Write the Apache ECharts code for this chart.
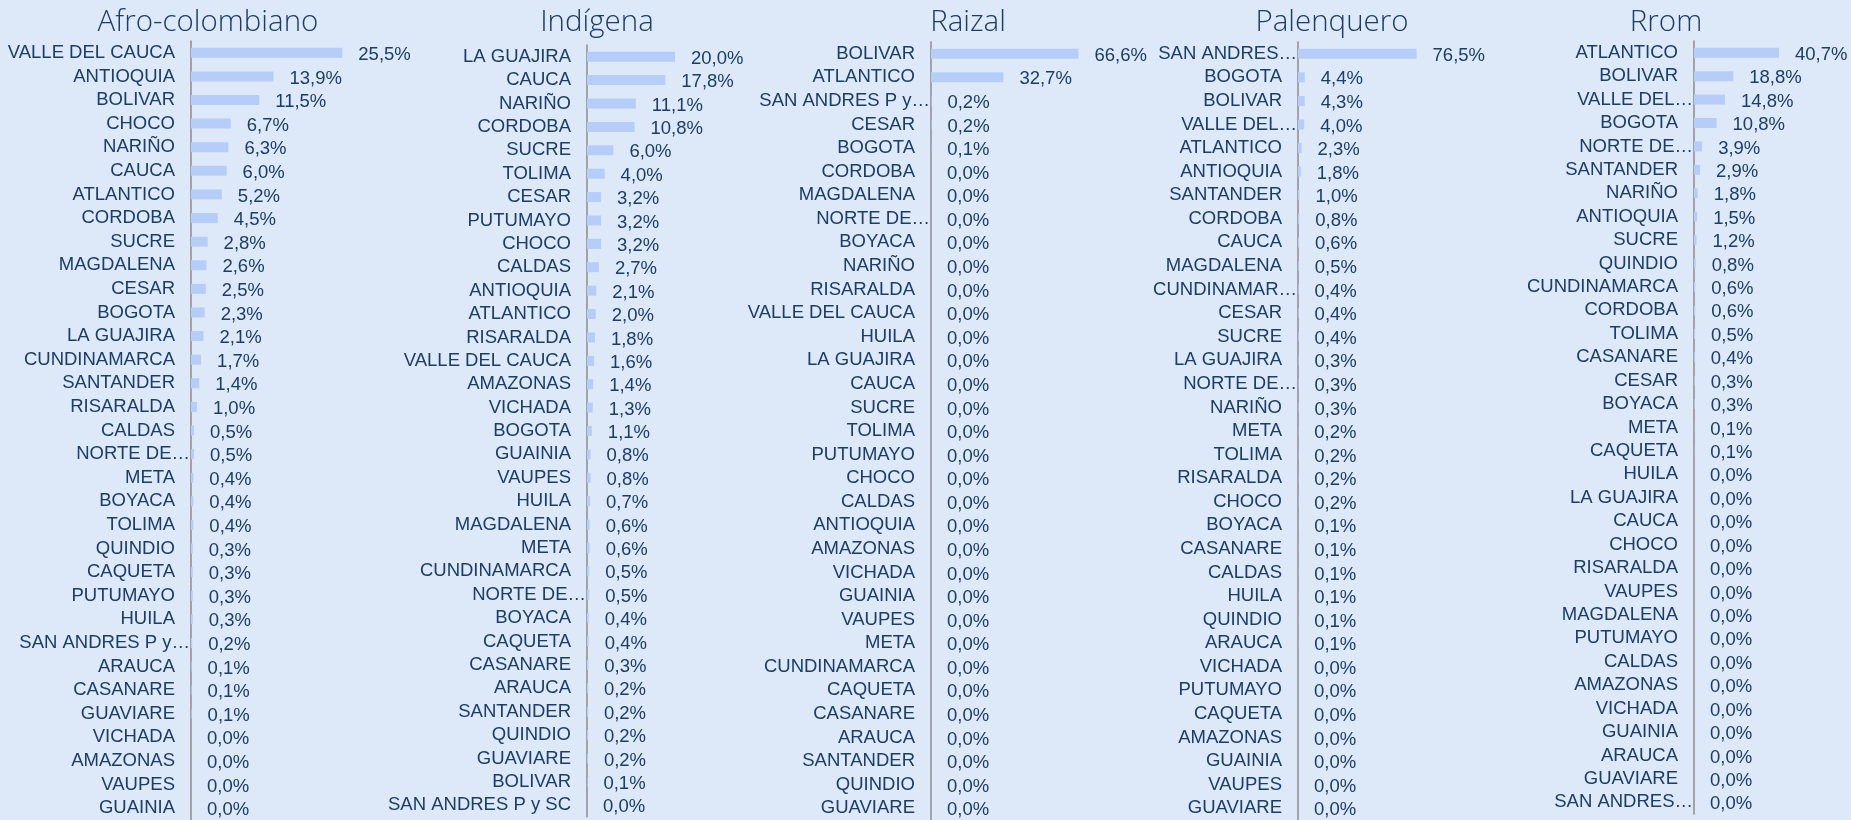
<!DOCTYPE html>
<html>
<head>
<meta charset="utf-8">
<script src="https://cdn.jsdelivr.net/npm/echarts@6/dist/echarts.min.js"></script>
<style>
    html, body { margin: 0; padding: 0; background: #dde8f8; }
    #chart { width: 1851px; height: 820px; }
</style>
</head>
<body>
<div id="chart"></div>
<script>
// categories and values (%), top to bottom
var afroNames = ['VALLE DEL CAUCA', 'ANTIOQUIA', 'BOLIVAR', 'CHOCO', 'NARIÑO', 'CAUCA', 'ATLANTICO', 'CORDOBA', 'SUCRE', 'MAGDALENA',
    'CESAR', 'BOGOTA', 'LA GUAJIRA', 'CUNDINAMARCA', 'SANTANDER', 'RISARALDA', 'CALDAS', 'NORTE DE…', 'META', 'BOYACA',
    'TOLIMA', 'QUINDIO', 'CAQUETA', 'PUTUMAYO', 'HUILA', 'SAN ANDRES P y…', 'ARAUCA', 'CASANARE', 'GUAVIARE', 'VICHADA',
    'AMAZONAS', 'VAUPES', 'GUAINIA'];
var afroValues = [25.5, 13.9, 11.5, 6.7, 6.3, 6.0, 5.2, 4.5, 2.8, 2.6,
    2.5, 2.3, 2.1, 1.7, 1.4, 1.0, 0.5, 0.5, 0.4, 0.4,
    0.4, 0.3, 0.3, 0.3, 0.3, 0.2, 0.1, 0.1, 0.1, 0.0,
    0.0, 0.0, 0.0];

var indigenaNames = ['LA GUAJIRA', 'CAUCA', 'NARIÑO', 'CORDOBA', 'SUCRE', 'TOLIMA', 'CESAR', 'PUTUMAYO', 'CHOCO', 'CALDAS',
    'ANTIOQUIA', 'ATLANTICO', 'RISARALDA', 'VALLE DEL CAUCA', 'AMAZONAS', 'VICHADA', 'BOGOTA', 'GUAINIA', 'VAUPES', 'HUILA',
    'MAGDALENA', 'META', 'CUNDINAMARCA', 'NORTE DE…', 'BOYACA', 'CAQUETA', 'CASANARE', 'ARAUCA', 'SANTANDER', 'QUINDIO',
    'GUAVIARE', 'BOLIVAR', 'SAN ANDRES P y SC'];
var indigenaValues = [20.0, 17.8, 11.1, 10.8, 6.0, 4.0, 3.2, 3.2, 3.2, 2.7,
    2.1, 2.0, 1.8, 1.6, 1.4, 1.3, 1.1, 0.8, 0.8, 0.7,
    0.6, 0.6, 0.5, 0.5, 0.4, 0.4, 0.3, 0.2, 0.2, 0.2,
    0.2, 0.1, 0.0];

var raizalNames = ['BOLIVAR', 'ATLANTICO', 'SAN ANDRES P y…', 'CESAR', 'BOGOTA', 'CORDOBA', 'MAGDALENA', 'NORTE DE…', 'BOYACA', 'NARIÑO',
    'RISARALDA', 'VALLE DEL CAUCA', 'HUILA', 'LA GUAJIRA', 'CAUCA', 'SUCRE', 'TOLIMA', 'PUTUMAYO', 'CHOCO', 'CALDAS',
    'ANTIOQUIA', 'AMAZONAS', 'VICHADA', 'GUAINIA', 'VAUPES', 'META', 'CUNDINAMARCA', 'CAQUETA', 'CASANARE', 'ARAUCA',
    'SANTANDER', 'QUINDIO', 'GUAVIARE'];
var raizalValues = [66.6, 32.7, 0.2, 0.2, 0.1, 0.0, 0.0, 0.0, 0.0, 0.0,
    0.0, 0.0, 0.0, 0.0, 0.0, 0.0, 0.0, 0.0, 0.0, 0.0,
    0.0, 0.0, 0.0, 0.0, 0.0, 0.0, 0.0, 0.0, 0.0, 0.0,
    0.0, 0.0, 0.0];

var palenqueroNames = ['SAN ANDRES…', 'BOGOTA', 'BOLIVAR', 'VALLE DEL…', 'ATLANTICO', 'ANTIOQUIA', 'SANTANDER', 'CORDOBA', 'CAUCA', 'MAGDALENA',
    'CUNDINAMAR…', 'CESAR', 'SUCRE', 'LA GUAJIRA', 'NORTE DE…', 'NARIÑO', 'META', 'TOLIMA', 'RISARALDA', 'CHOCO',
    'BOYACA', 'CASANARE', 'CALDAS', 'HUILA', 'QUINDIO', 'ARAUCA', 'VICHADA', 'PUTUMAYO', 'CAQUETA', 'AMAZONAS',
    'GUAINIA', 'VAUPES', 'GUAVIARE'];
var palenqueroValues = [76.5, 4.4, 4.3, 4.0, 2.3, 1.8, 1.0, 0.8, 0.6, 0.5,
    0.4, 0.4, 0.4, 0.3, 0.3, 0.3, 0.2, 0.2, 0.2, 0.2,
    0.1, 0.1, 0.1, 0.1, 0.1, 0.1, 0.0, 0.0, 0.0, 0.0,
    0.0, 0.0, 0.0];

var rromNames = ['ATLANTICO', 'BOLIVAR', 'VALLE DEL…', 'BOGOTA', 'NORTE DE…', 'SANTANDER', 'NARIÑO', 'ANTIOQUIA', 'SUCRE', 'QUINDIO',
    'CUNDINAMARCA', 'CORDOBA', 'TOLIMA', 'CASANARE', 'CESAR', 'BOYACA', 'META', 'CAQUETA', 'HUILA', 'LA GUAJIRA',
    'CAUCA', 'CHOCO', 'RISARALDA', 'VAUPES', 'MAGDALENA', 'PUTUMAYO', 'CALDAS', 'AMAZONAS', 'VICHADA', 'GUAINIA',
    'ARAUCA', 'GUAVIARE', 'SAN ANDRES…'];
var rromValues = [40.7, 18.8, 14.8, 10.8, 3.9, 2.9, 1.8, 1.5, 1.2, 0.8,
    0.6, 0.6, 0.5, 0.4, 0.3, 0.3, 0.1, 0.1, 0.0, 0.0,
    0.0, 0.0, 0.0, 0.0, 0.0, 0.0, 0.0, 0.0, 0.0, 0.0,
    0.0, 0.0, 0.0];

var titles = ['Afro-colombiano', 'Indígena', 'Raizal', 'Palenquero', 'Rrom'];

var textColor = '#1b3d66',
    barColor = '#b6cdf8',
    axisColor = '#8c8c8c',
    labelFont = '"Liberation Sans", Arial, sans-serif';

// panel layout: axis x, grid top/height, value range and width, title centre
var panels = [
    { names: afroNames, values: afroValues, left: 191, top: 41, height: 782, width: 178, max: 30, titleX: 208 },
    { names: indigenaNames, values: indigenaValues, left: 587, top: 45, height: 772, width: 110, max: 25, titleX: 597 },
    { names: raizalNames, values: raizalValues, left: 931, top: 42, height: 782, width: 155, max: 70, titleX: 968 },
    { names: palenqueroNames, values: palenqueroValues, left: 1298, top: 42, height: 781, width: 124, max: 80, titleX: 1332 },
    { names: rromNames, values: rromValues, left: 1694, top: 41, height: 773, width: 94, max: 45, titleX: 1666 }
];

var option = {
    backgroundColor: '#dde8f8',
    animation: false,
    title: [],
    grid: [],
    xAxis: [],
    yAxis: [],
    series: []
};

panels.forEach(function (p, i) {
    option.title.push({
        text: titles[i],
        left: p.titleX,
        top: 8,
        padding: 0,
        textAlign: 'center',
        textStyle: {
            fontFamily: '"Open Sans", sans-serif',
            fontWeight: 300,
            fontSize: 29.5,
            color: textColor
        }
    });
    option.grid.push({ left: p.left, top: p.top, width: p.width, height: p.height });
    option.xAxis.push({
        type: 'value',
        gridIndex: i,
        min: 0,
        max: p.max,
        show: false
    });
    option.yAxis.push({
        type: 'category',
        gridIndex: i,
        inverse: true,
        data: p.names,
        axisLine: { lineStyle: { color: axisColor, width: 1.5 } },
        axisTick: { length: 6, lineStyle: { color: axisColor, width: 1.5 } },
        axisLabel: {
            interval: 0,
            margin: 0,
            formatter: function (v) {
                // truncated names run up to the axis, the rest keep a gap
                return v.indexOf('…') >= 0 ? '{t|' + v + '}' : '{n|' + v + '}';
            },
            rich: {
                n: { fontFamily: labelFont, fontSize: 18.5, color: textColor, padding: [0, 16, 0, 0] },
                t: { fontFamily: labelFont, fontSize: 18.5, color: textColor, padding: [0, 1, 0, 0] }
            }
        }
    });
    option.series.push({
        type: 'bar',
        xAxisIndex: i,
        yAxisIndex: i,
        data: p.values,
        barWidth: 10,
        itemStyle: { color: barColor },
        label: {
            show: true,
            position: 'right',
            distance: 16,
            offset: [0, 2],
            fontFamily: labelFont,
            fontSize: 18.5,
            color: textColor,
            formatter: function (params) {
                return params.value.toFixed(1).replace('.', ',') + '%';
            }
        }
    });
});

var chart = echarts.init(document.getElementById('chart'));
chart.setOption(option);
</script>
</body>
</html>
